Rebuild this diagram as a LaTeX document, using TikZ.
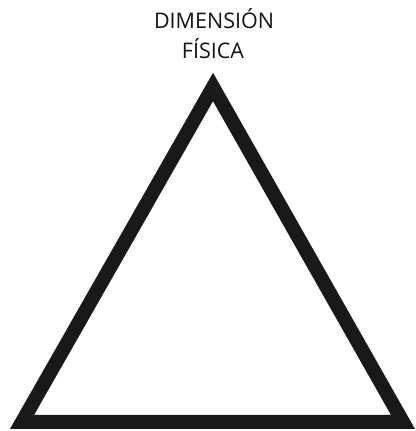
\documentclass[tikz,border=0pt]{standalone}
\usepackage{fontspec}
\setmainfont{Open Sans}
\begin{document}
\begin{tikzpicture}[x=1pt,y=1pt,
  labeltext/.style={font=\fontsize{21.5}{26}\selectfont, inner sep=0pt, anchor=base, text=black!92},
  thickedge/.style={line width=14pt, line join=miter, draw=black!90}]
\useasboundingbox (0,0) rectangle (415,431);
\node[labeltext] (title1) at (214,402) {DIMENSIÓN};
\node[labeltext] (title2) at (213,372) {FÍSICA};
\coordinate (apex) at (213,344);
\coordinate (bl) at (22,9);
\coordinate (br) at (403,9);
\draw[thickedge] (apex) -- (bl) -- (br) -- cycle;
\end{tikzpicture}
\end{document}
